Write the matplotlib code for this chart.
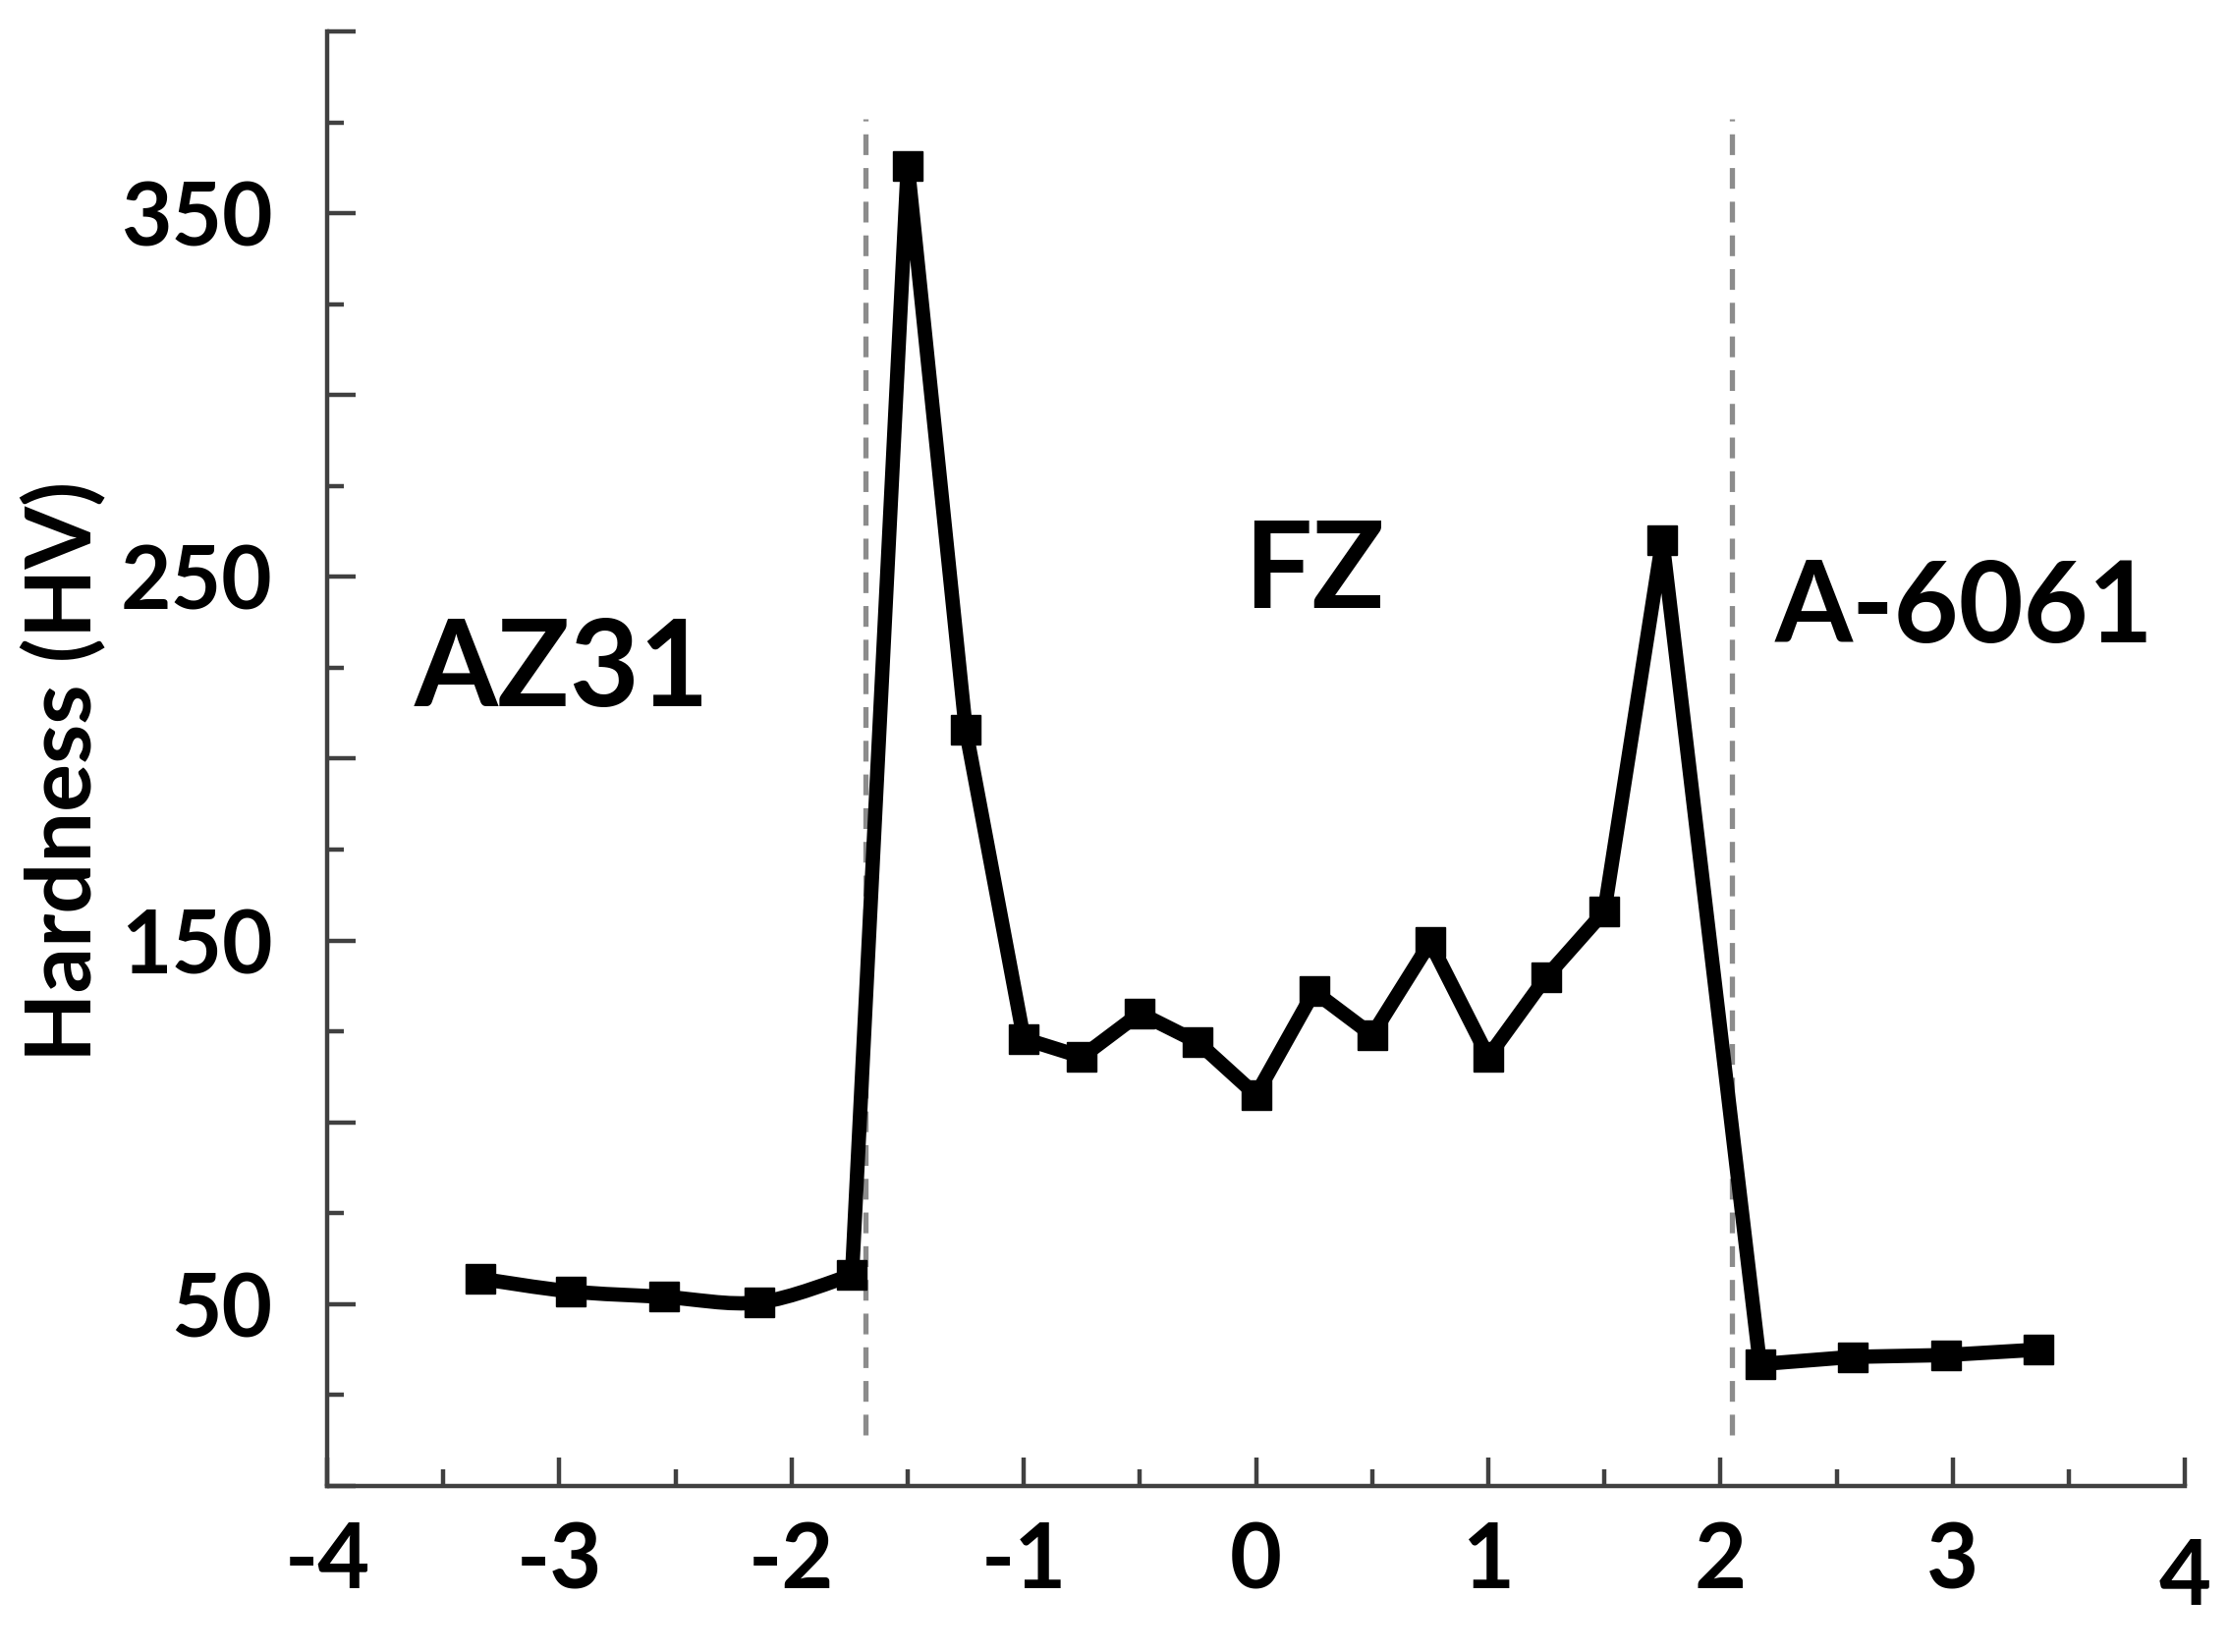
import numpy as np
import matplotlib
matplotlib.use("Agg")
import matplotlib.pyplot as plt
import matplotlib.transforms as mtransforms
from matplotlib.path import Path
from matplotlib.patches import PathPatch
from matplotlib.ticker import FixedLocator, FuncFormatter

# hardness profile across the weld (distance from centre, mm)
az31_x = [-3.34, -2.95, -2.55, -2.14, -1.74]
az31_hv = [57, 53.5, 52, 50.5, 58]

fz_x = [-1.5, -1.25, -1.0, -0.75, -0.5, -0.25, 0.0, 0.25, 0.5, 0.75, 1.0, 1.25, 1.5, 1.75]
fz_hv = [363, 208, 123, 118, 130, 122, 107.5, 136, 124, 149.5, 118, 140, 158, 260]

al_x = [2.17, 2.57, 2.97, 3.37]
al_hv = [33.5, 35.5, 36, 37.5]

boundaries = [-1.68, 2.05]
zone_names = ["AZ31", "FZ", "A-6061"]
zone_x = [-2.99, 0.25, 3.05]
zone_y = [224, 251, 241]
zone_size = [88, 88, 82]

y_labels = [50, 150, 250, 350]

plt.rcParams['font.family'] = ['Lato', 'DejaVu Sans']
plt.rcParams['font.weight'] = 'bold'
plt.rcParams['axes.unicode_minus'] = False

fig = plt.figure(figsize=(22.69, 16.82), dpi=100)
ax = fig.add_axes([0.1468, 0.1005, 0.8334, 0.8805])

# smoothed line through the AZ31 points (catmull-rom as bezier)
pts = np.column_stack([az31_x, az31_hv])
n = len(pts)
verts = [tuple(pts[0])]
codes = [Path.MOVETO]
for i in range(n - 1):
    p0 = pts[max(i - 1, 0)]
    p1 = pts[i]
    p2 = pts[i + 1]
    p3 = pts[min(i + 2, n - 1)]
    verts += [tuple(p1 + (p2 - p0) / 6), tuple(p2 - (p3 - p1) / 6), tuple(p2)]
    codes += [Path.CURVE4] * 3
ax.add_patch(PathPatch(Path(verts, codes), facecolor='none', edgecolor='black',
                       lw=10.5, capstyle='round', zorder=3))

# straight segments for the rest
line_x = [az31_x[-1]] + fz_x + al_x
line_y = [az31_hv[-1]] + fz_hv + al_hv
ax.plot(line_x, line_y, color='black', lw=10.5, solid_joinstyle='round', zorder=3)

all_x = az31_x + fz_x + al_x
all_y = az31_hv + fz_hv + al_hv
ax.plot(all_x, all_y, ls='none', marker='s', ms=22, color='black', zorder=4)

for b in boundaries:
    ax.plot([b, b], [14, 376], color='#8c8c8c', lw=3.8, dashes=(4, 2.5), zorder=2)

for name, x, y, fs in zip(zone_names, zone_x, zone_y, zone_size):
    ax.text(x, y, name, fontsize=fs, fontweight='bold', ha='center', va='center')

ax.set_xlim(-4, 4)
ax.set_ylim(0, 400)

ax.xaxis.set_major_locator(FixedLocator(np.arange(-4, 5, 1)))
ax.xaxis.set_minor_locator(FixedLocator(np.arange(-3.5, 4, 1)))
ax.yaxis.set_major_locator(FixedLocator(np.arange(0, 401, 50)))
ax.yaxis.set_minor_locator(FixedLocator(np.arange(25, 400, 50)))
ax.xaxis.set_major_formatter(FuncFormatter(lambda v, p: f"{v:g}"))
ax.yaxis.set_major_formatter(FuncFormatter(lambda v, p: f"{v:g}" if v in y_labels else ""))

for s in ['top', 'right']:
    ax.spines[s].set_visible(False)
for s in ['left', 'bottom']:
    ax.spines[s].set_linewidth(3.2)
    ax.spines[s].set_color('#404040')

ax.tick_params(which='both', direction='in', color='#404040', width=3.2)
ax.tick_params(which='major', length=21)
ax.tick_params(which='minor', length=12)
ax.tick_params(axis='x', which='major', labelsize=66, pad=26)
ax.tick_params(axis='y', which='major', labelsize=64, pad=40)
for lab in ax.get_xticklabels() + ax.get_yticklabels():
    lab.set_fontweight('bold')

# the "4" label sits a little lower in the original
last = ax.xaxis.get_major_ticks()[-1].label1
last.set_transform(last.get_transform() +
                   mtransforms.ScaledTranslation(0, -12 / 72, fig.dpi_scale_trans))

ax.set_ylabel("Hardness (HV)", fontsize=66, fontweight='bold', va='center')
ax.yaxis.set_label_coords(-0.142, 0.4916)

fig.savefig("out.png", dpi=100)
